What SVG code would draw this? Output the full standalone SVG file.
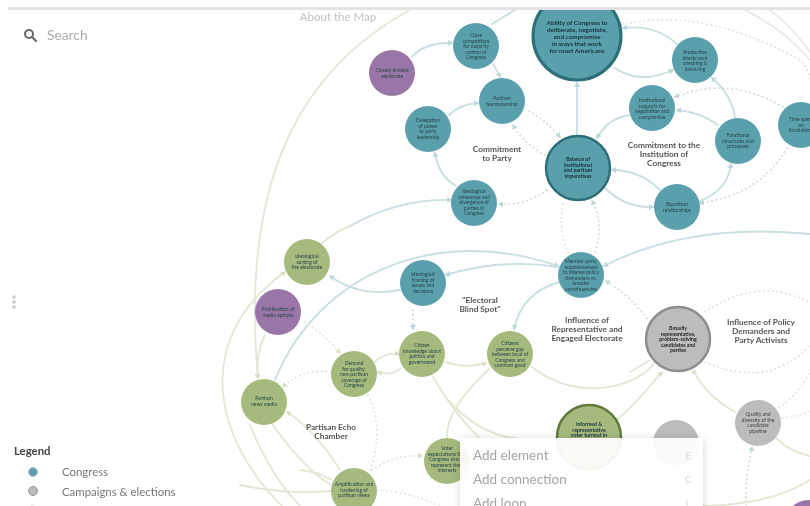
<svg xmlns="http://www.w3.org/2000/svg" width="810" height="506" viewBox="0 0 810 506">
<style>
text{font-family:Lato,"Liberation Sans",sans-serif;text-anchor:middle}
.n{font-size:5px;fill:#27474b}
.b{font-size:5.2px;font-weight:700;fill:#15343a}
.h{font-size:8.300px;font-weight:700;fill:#555}
.te{fill:#5a9fac}.gr{fill:#a6ba7d}.pu{fill:#9a76a8}.gy{fill:#bcbcbc}
path{fill:none;stroke-linecap:round}
.t{stroke:#c9dfe2;stroke-width:1.900;marker-end:url(#mt)}
.tn{stroke:#c9dfe2;stroke-width:1.900}
.g{stroke:#e3e8d6;stroke-width:1.900;marker-end:url(#mg)}
.gn{stroke:#e3e8d6;stroke-width:1.900}
.q{stroke:#e6e6e2;stroke-width:1.500}
.d{stroke:#d2dedb;stroke-width:1.800;stroke-dasharray:.5 4;marker-end:url(#mt)}
.dg{stroke:#e1e6dc;stroke-width:1.800;stroke-dasharray:.5 4;marker-end:url(#mg)}
.dn{stroke:#e3e6dd;stroke-width:1.800;stroke-dasharray:.5 4}
.m{font-size:13.500px;fill:#a5a5a5;text-anchor:start}
.k{font-size:9px;fill:#d5d5d5}
.l{font-size:11.400px;fill:#777;text-anchor:start}
</style>
<defs>
<marker id="mt" markerWidth="6" markerHeight="6" refX="4" refY="3" orient="auto" markerUnits="userSpaceOnUse"><path d="M0 0L5 3L0 6Z" style="fill:#bcd6da;stroke:none"/></marker>
<marker id="mg" markerWidth="6" markerHeight="6" refX="4" refY="3" orient="auto" markerUnits="userSpaceOnUse"><path d="M0 0L5 3L0 6Z" style="fill:#d8dfc6;stroke:none"/></marker>
<filter id="soft" x="-2%" y="-2%" width="104%" height="104%"><feGaussianBlur stdDeviation="0.55"/></filter>
<filter id="sh" x="-10%" y="-20%" width="120%" height="140%"><feDropShadow dx="0" dy="1" stdDeviation="4" flood-color="#000" flood-opacity=".18"/></filter>
</defs>
<rect width="810" height="506" fill="#fff"/>
<g filter="url(#soft)">
<g id="connectors">
<path class="g" d="M410 10C300 70 240 180 258 378"/>
<path class="g" d="M282 506C215 440 190 340 285 272"/>
<path class="gn" d="M322 243Q335 232 350 226"/>
<path class="t" d="M350 226Q400 198 451 200"/>
<path class="t" d="M275 380C320 270 440 225 558 266"/>
<path class="t" d="M558 267Q500 258 446 275"/>
<path class="t" d="M400 290Q360 298 330 276"/>
<path class="t" d="M560 282Q522 292 514 329"/>
<path class="t" d="M810 234Q690 222 604 266"/>
<path class="d" d="M650 322Q630 295 606 281"/>
<path class="gn" d="M532 367C580 405 640 385 655 362"/>
<path class="g" d="M446 362Q465 369 486 363"/>
<path class="gn" d="M433 377Q470 440 520 470"/>
<path class="gn" d="M489 369Q445 410 447 438"/>
<path class="gn" d="M448 400Q480 435 515 438"/>
<path class="g" d="M375 362Q385 352 399 354"/>
<path class="g" d="M400 369Q390 376 378 372"/>
<path class="dg" d="M331 372Q302 368 283 387"/>
<path class="dg" d="M305 322Q325 335 340 353"/>
<path class="g" d="M265 335Q255 355 258 378"/>
<path class="g" d="M340 470Q315 430 287 412"/>
<path class="gn" d="M272 424Q305 470 331 485"/>
<path class="gn" d="M250 425Q270 475 300 506"/>
<path class="gn" d="M240 485Q290 495 331 491"/>
<path class="gn" d="M300 470Q318 472 332 480"/>
<path class="dn" d="M368 395Q385 430 370 470"/>
<path class="dg" d="M372 470Q395 454 422 456"/>
<path class="dn" d="M378 490Q410 492 440 506"/>
<path class="dn" d="M622 25Q700 5 800 60Q810 70 810 80"/>
<path class="d" d="M783 107Q730 75 675 97"/>
<path class="d" d="M787 148Q760 195 700 203"/>
<path class="t" d="M677 44Q655 24 623 28"/>
<path class="t" d="M615 68Q640 85 673 70"/>
<path class="t" d="M735 118Q732 95 712 78"/>
<path class="t" d="M718 125Q700 112 677 110"/>
<path class="t" d="M630 115Q608 118 597 138"/>
<path class="t" d="M660 190Q640 170 612 170"/>
<path class="t" d="M605 188Q625 208 653 207"/>
<path class="t" d="M700 201Q728 190 731 164"/>
<path class="t" d="M577 136V83"/>
<path class="t" d="M493 64Q497 70 500 77"/>
<path class="t" d="M412 57Q425 42 452 43"/>
<path class="t" d="M449 115Q460 104 478 103"/>
<path class="t" d="M456 186Q438 175 435 153"/>
<path class="tn" d="M492 24L515 10"/>
<path class="d" d="M547 190Q525 206 499 204"/>
<path class="d" d="M529 111Q545 120 560 137"/>
<path class="d" d="M545 155Q525 145 513 125"/>
<path class="dn" d="M563 204Q558 230 568 253"/>
<path class="d" d="M595 252Q605 225 592 201"/>
<path class="d" d="M413 310V329"/>
<path class="dn" d="M705 312Q760 275 810 303"/>
<path class="dn" d="M705 362Q770 390 810 345"/>
<path class="dn" d="M775 410Q800 395 810 370"/>
<path class="dn" d="M782 418Q800 416 810 411"/>
<path class="g" d="M735 412Q705 395 693 370"/>
<path class="gn" d="M776 438Q790 452 810 456"/>
<path class="d" d="M746 506Q745 480 752 447"/>
<path class="g" d="M616 420Q630 410 662 372"/>
<path class="gn" d="M630 372L650 360"/>
<path class="gn" d="M703 506Q770 505 810 480"/>
<path class="q" d="M745 10Q785 30 810 60"/>
<path class="q" d="M770 10Q795 30 810 52"/>
</g>
<g id="closely"><circle class="pu" cx="392" cy="73" r="23"/><text class="n"><tspan x="392" y="72">Closely divided</tspan><tspan x="392" y="78">electorate</tspan></text></g>
<g id="close"><circle class="te" cx="476" cy="46" r="23"/><text class="n"><tspan x="476" y="37">Close</tspan><tspan x="476" y="42.500">competition</tspan><tspan x="476" y="48">for majority</tspan><tspan x="476" y="53.500">control of</tspan><tspan x="476" y="59">Congress</tspan></text></g>
<g id="ability"><circle class="te" cx="577" cy="36" r="44" stroke="#2f6e78" stroke-width="3"/><text class="b" style="font-size:6.400px"><tspan x="577" y="25">Ability of Congress to</tspan><tspan x="577" y="32">deliberate, negotiate,</tspan><tspan x="577" y="39">and compromise</tspan><tspan x="577" y="46">in ways that work</tspan><tspan x="577" y="53">for most Americans</tspan></text></g>
<g id="teamsmanship"><circle class="te" cx="502" cy="101" r="23"/><text class="n"><tspan x="502" y="100">Partisan</tspan><tspan x="502" y="106">teamsmanship</tspan></text></g>
<g id="delegation"><circle class="te" cx="428" cy="129" r="23"/><text class="n"><tspan x="428" y="122">Delegation</tspan><tspan x="428" y="127.500">of power</tspan><tspan x="428" y="133">to party</tspan><tspan x="428" y="138.500">leadership</tspan></text></g>
<g id="productive"><circle class="te" cx="695" cy="60" r="23"/><text class="n"><tspan x="695" y="54">Productive</tspan><tspan x="695" y="59.500">interbranch</tspan><tspan x="695" y="65">checking &amp;</tspan><tspan x="695" y="70.500">balancing</tspan></text></g>
<g id="supports"><circle class="te" cx="652" cy="108" r="23"/><text class="n"><tspan x="652" y="102">Institutional</tspan><tspan x="652" y="107.500">supports for</tspan><tspan x="652" y="113">negotiation and</tspan><tspan x="652" y="118.500">compromise</tspan></text></g>
<g id="functional"><circle class="te" cx="738" cy="141" r="23"/><text class="n"><tspan x="738" y="137">Functional</tspan><tspan x="738" y="142.500">structures and</tspan><tspan x="738" y="148">processes</tspan></text></g>
<g id="time"><circle class="te" cx="801" cy="125" r="23"/><text class="n"><tspan x="801" y="121">Time spent</tspan><tspan x="801" y="126.500">on</tspan><tspan x="801" y="132">fundraising</tspan></text></g>
<g id="bipartisan"><circle class="te" cx="677" cy="207" r="23"/><text class="n"><tspan x="677" y="206">Bipartisan</tspan><tspan x="677" y="212">relationships</tspan></text></g>
<g id="balance"><circle class="te" cx="578" cy="168" r="32" stroke="#2f6e78" stroke-width="2.500"/><text class="b"><tspan x="578" y="161">Balance of</tspan><tspan x="578" y="166.500">institutional</tspan><tspan x="578" y="172">and partisan</tspan><tspan x="578" y="177.500">imperatives</tspan></text></g>
<g id="coherence"><circle class="te" cx="474" cy="203" r="23"/><text class="n"><tspan x="474" y="193">Ideological</tspan><tspan x="474" y="198.500">coherence and</tspan><tspan x="474" y="204">divergence of</tspan><tspan x="474" y="209.500">parties in</tspan><tspan x="474" y="215">Congress</tspan></text></g>
<g id="sorting"><circle class="gr" cx="307" cy="262" r="23"/><text class="n"><tspan x="307" y="258">Ideological</tspan><tspan x="307" y="263.500">sorting of</tspan><tspan x="307" y="269">the electorate</tspan></text></g>
<g id="framing"><circle class="te" cx="423" cy="283" r="23"/><text class="n"><tspan x="423" y="276">Ideological</tspan><tspan x="423" y="281.500">framing of</tspan><tspan x="423" y="287">issues and</tspan><tspan x="423" y="292.500">decisions</tspan></text></g>
<g id="member"><circle class="te" cx="581" cy="275" r="23"/><text class="n"><tspan x="581" y="263">Member-party</tspan><tspan x="581" y="268.500">responsiveness</tspan><tspan x="581" y="274">to intense policy</tspan><tspan x="581" y="279.500">demanders vs.</tspan><tspan x="581" y="285">broader</tspan><tspan x="581" y="290.500">constituencies</tspan></text></g>
<g id="proliferation"><circle class="pu" cx="278" cy="312" r="23"/><text class="n"><tspan x="278" y="311">Proliferation of</tspan><tspan x="278" y="317">media options</tspan></text></g>
<g id="knowledge"><circle class="gr" cx="422" cy="354" r="23"/><text class="n"><tspan x="422" y="347">Citizen</tspan><tspan x="422" y="352.500">knowledge about</tspan><tspan x="422" y="358">politics and</tspan><tspan x="422" y="363.500">government</tspan></text></g>
<g id="perceive"><circle class="gr" cx="510" cy="354" r="23"/><text class="n"><tspan x="510" y="345">Citizens</tspan><tspan x="510" y="350.500">perceive gap</tspan><tspan x="510" y="356">between local of</tspan><tspan x="510" y="361.500">Congress and</tspan><tspan x="510" y="367">common good</tspan></text></g>
<g id="demand"><circle class="gr" cx="354" cy="374" r="23"/><text class="n"><tspan x="354" y="365">Demand</tspan><tspan x="354" y="370.500">for quality,</tspan><tspan x="354" y="376">non-partisan</tspan><tspan x="354" y="381.500">coverage of</tspan><tspan x="354" y="387">Congress</tspan></text></g>
<g id="news"><circle class="gr" cx="264" cy="402" r="23"/><text class="n"><tspan x="264" y="400">Partisan</tspan><tspan x="264" y="406">news media</tspan></text></g>
<g id="broadly"><circle class="gy" cx="678" cy="339" r="32" stroke="#8d8d8d" stroke-width="2.500"/><text class="b" style="fill:#222"><tspan x="678" y="330">Broadly</tspan><tspan x="678" y="335.500">representative,</tspan><tspan x="678" y="341">problem-solving</tspan><tspan x="678" y="346.500">candidates and</tspan><tspan x="678" y="352">parties</tspan></text></g>
<g id="quality"><circle class="gy" cx="758" cy="423" r="23"/><text class="n" style="fill:#444"><tspan x="758" y="416">Quality and</tspan><tspan x="758" y="421.500">diversity of the</tspan><tspan x="758" y="427">candidate</tspan><tspan x="758" y="432.500">pipeline</tspan></text></g>
<g id="informed"><circle class="gr" cx="589" cy="437" r="32" stroke="#5e7a3a" stroke-width="2.500"/><text class="b"><tspan x="589" y="426">Informed &amp;</tspan><tspan x="589" y="431.500">representative</tspan><tspan x="589" y="437">voter turnout in</tspan></text></g>
<g id="grey-hidden"><circle class="gy" cx="676" cy="443" r="23"/></g>
<g id="voter"><circle class="gr" cx="447" cy="461" r="23"/><text class="n"><tspan x="447" y="450">Voter</tspan><tspan x="447" y="455.500">expectations that</tspan><tspan x="447" y="461">Congress should</tspan><tspan x="447" y="466.500">represent their</tspan><tspan x="447" y="472">interests</tspan></text></g>
<g id="amplification"><circle class="gr" cx="354" cy="491" r="23"/><text class="n"><tspan x="354" y="486">Amplification and</tspan><tspan x="354" y="491.500">hardening of</tspan><tspan x="354" y="497">partisan views</tspan></text></g>
<g id="purple-corner"><circle class="pu" cx="808" cy="522" r="22"/></g>
<g id="labels">
<text class="h"><tspan x="497" y="152">Commitment</tspan><tspan x="497" y="161">to Party</tspan></text>
<text class="h"><tspan x="664" y="148">Commitment to the</tspan><tspan x="664" y="157">Institution of</tspan><tspan x="664" y="166">Congress</tspan></text>
<text class="h"><tspan x="480" y="303">"Electoral</tspan><tspan x="480" y="312">Blind Spot"</tspan></text>
<text class="h"><tspan x="587" y="323">Influence of</tspan><tspan x="587" y="332">Representative and</tspan><tspan x="587" y="341">Engaged Electorate</tspan></text>
<text class="h"><tspan x="761" y="325">Influence of Policy</tspan><tspan x="761" y="334">Demanders and</tspan><tspan x="761" y="343">Party Activists</tspan></text>
<text class="h"><tspan x="331" y="430">Partisan Echo</tspan><tspan x="331" y="439">Chamber</tspan></text>
</g>
<g id="menu">
<rect x="460" y="438" width="243" height="80" rx="3" fill="#fff" fill-opacity=".93" filter="url(#sh)"/>
<text class="m" x="473" y="460">Add element</text>
<text class="m" x="473" y="484">Add connection</text>
<text class="m" x="473" y="508">Add loop</text>
<text class="k" x="688" y="459">E</text>
<text class="k" x="688" y="483">C</text>
<text class="k" x="688" y="507">L</text>
</g>
<g id="ui">
<rect x="0" y="0" width="810" height="7" fill="#fff"/>
<rect x="8" y="7" width="802" height="3" fill="#e2e2e2"/>
<text x="338" y="21" style="font-size:11.500px;fill:#c4c4c4">About the Map</text>
<circle cx="29" cy="34" r="4" fill="none" stroke="#666" stroke-width="2"/>
<path d="M32 37L36 41" stroke="#666" stroke-width="2.200"/>
<text x="47" y="40" style="font-size:13.800px;fill:#aaa;text-anchor:start">Search</text>
<circle cx="14" cy="297" r="1.800" fill="#c9c9c9"/><circle cx="14" cy="302" r="1.800" fill="#c9c9c9"/><circle cx="14" cy="307" r="1.800" fill="#c9c9c9"/>
<text x="14" y="455" style="font-size:11.400px;font-weight:700;fill:#444;text-anchor:start">Legend</text>
<circle cx="33" cy="472" r="4.500" fill="#5a9fac" stroke="#bbb"/>
<text class="l" x="62" y="476">Congress</text>
<circle cx="33" cy="491" r="4.500" fill="#bcbcbc" stroke="#999"/>
<text class="l" x="62" y="496">Campaigns &amp; elections</text>
<circle cx="33" cy="510" r="4.500" fill="#bcbcbc"/>
</g>
</g>
</svg>
